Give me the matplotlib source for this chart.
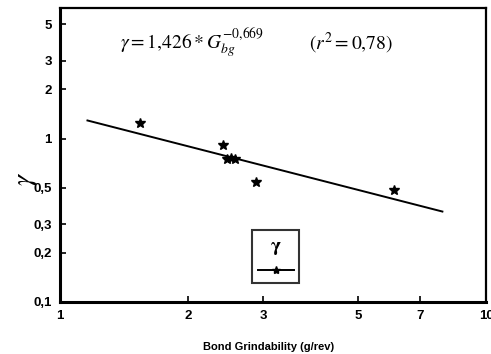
import matplotlib
matplotlib.use("Agg")
import matplotlib.pyplot as plt
import numpy as np
from matplotlib.ticker import FixedLocator, NullLocator, FixedFormatter

# Data
grindability = [1.54, 2.41, 2.46, 2.52, 2.58, 2.88, 6.09]
gamma_vals = [1.25, 0.92, 0.75, 0.76, 0.75, 0.545, 0.487]
fit_coef = 1.426
fit_exp = -0.669
fit_range = [1.16, 7.9]

xticks = [1, 2, 3, 5, 7, 10]
xticklabels = ["1", "2", "3", "5", "7", "10"]
yticks = [0.1, 0.2, 0.3, 0.5, 1, 2, 3, 5]
yticklabels = ["0,1", "0,2", "0,3", "0,5", "1", "2", "3", "5"]

plt.rcParams['mathtext.fontset'] = 'stix'

fig = plt.figure(figsize=(4.91, 3.54), dpi=100)
ax = fig.add_axes([60/491, 1-302/354, (486-60)/491, (302-8)/354])
ax.set_xscale('log')
ax.set_yscale('log')
ax.set_xlim(1, 10)
ax.set_ylim(0.1, 6.3)

xf = np.geomspace(fit_range[0], fit_range[1], 50)
yf = fit_coef * xf ** fit_exp
ax.plot(xf, yf, color='black', lw=1.4, zorder=2)
ax.plot(grindability, gamma_vals, linestyle='none', marker='*', color='black',
        markersize=7, zorder=3)

# legend handle
hl, = ax.plot([], [], color='black', lw=1.4, marker='*', markersize=6)
leg = ax.legend([hl], [''], title=r'$\mathbf{\gamma}$', loc='lower left',
                bbox_to_anchor=(0.435, 0.04), frameon=True, fancybox=False,
                handlelength=2.6, borderpad=0.4, handletextpad=0.0,
                title_fontsize=14)
leg.get_frame().set_edgecolor('black')
leg.get_frame().set_linewidth(1.5)

ax.xaxis.set_major_locator(FixedLocator(xticks))
ax.xaxis.set_major_formatter(FixedFormatter(xticklabels))
ax.xaxis.set_minor_locator(NullLocator())
ax.yaxis.set_major_locator(FixedLocator(yticks))
ax.yaxis.set_major_formatter(FixedFormatter(yticklabels))
ax.yaxis.set_minor_locator(NullLocator())
ax.tick_params(direction='in', length=4, width=1.2, labelsize=9.5, pad=6)
for lab in ax.get_xticklabels() + ax.get_yticklabels():
    lab.set_fontweight('bold')
    lab.set_fontfamily('Liberation Sans')

for s in ['left', 'bottom']:
    ax.spines[s].set_linewidth(2.2)
for s in ['top', 'right']:
    ax.spines[s].set_linewidth(1.6)

ax.set_xlabel('Bond Grindability (g/rev)', fontsize=8, fontweight='bold',
              fontfamily='Liberation Sans')
ax.xaxis.set_label_coords(0.49, -0.135)
ax.set_ylabel(r'$\gamma$', fontsize=20, rotation=90)
ax.yaxis.set_label_coords(-0.05, 0.42)

ax.text(0.14, 0.88, r'$\gamma = 1{,}426 * G_{bg}^{-0{,}669}$', transform=ax.transAxes,
        fontsize=14, va='center', ha='left')
ax.text(0.585, 0.88, r'$\left(r^2 = 0{,}78\right)$', transform=ax.transAxes,
        fontsize=14, va='center', ha='left')

fig.savefig('out.png', dpi=100)
